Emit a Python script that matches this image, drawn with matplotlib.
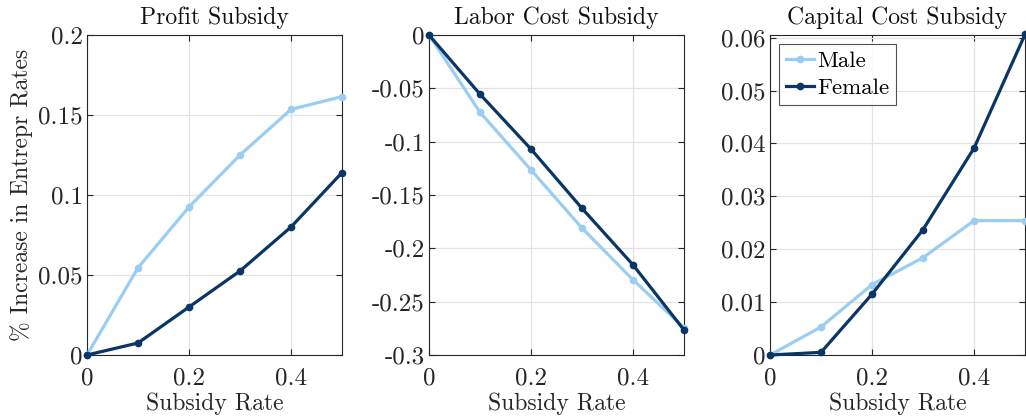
import matplotlib
matplotlib.use("Agg")
import matplotlib.pyplot as plt
from matplotlib.ticker import FuncFormatter

plt.rcParams['font.family'] = ['cmr10', 'DejaVu Serif']
plt.rcParams['axes.unicode_minus'] = False
plt.rcParams['mathtext.fontset'] = 'cm'

subsidy_rate = [0.0, 0.1, 0.2, 0.3, 0.4, 0.5]

profit_male = [0.0, 0.0545, 0.0925, 0.125, 0.1535, 0.1615]
profit_female = [0.0, 0.0075, 0.030, 0.0525, 0.080, 0.114]

labor_male = [0.0, -0.0725, -0.1265, -0.181, -0.2295, -0.2745]
labor_female = [0.0, -0.0555, -0.107, -0.1625, -0.2155, -0.2765]

capital_male = [0.0, 0.0053, 0.0133, 0.0184, 0.0254, 0.0254]
capital_female = [0.0, 0.0005, 0.0115, 0.0237, 0.0391, 0.0606]

titles = ["Profit Subsidy", "Labor Cost Subsidy", "Capital Cost Subsidy"]
series_labels = ["Male", "Female"]
xlabel = "Subsidy Rate"
ylabel = "% Increase in Entrepr Rates"

x_ticks = [0, 0.2, 0.4]
y_ticks = [
    [0, 0.05, 0.1, 0.15, 0.2],
    [-0.3, -0.25, -0.2, -0.15, -0.1, -0.05, 0],
    [0, 0.01, 0.02, 0.03, 0.04, 0.05, 0.06],
]
y_lims = [(0, 0.2), (-0.3, 0), (0, 0.0605)]

male_color = "#9BCDF2"
female_color = "#0A3567"

fig = plt.figure(figsize=(10.26, 4.17), dpi=100)
positions = [
    [87 / 1026, 62 / 417, 255 / 1026, 320 / 417],
    [429 / 1026, 62 / 417, 255 / 1026, 320 / 417],
    [770 / 1026, 62 / 417, 255 / 1026, 320 / 417],
]
data = [
    (profit_male, profit_female),
    (labor_male, labor_female),
    (capital_male, capital_female),
]


def fmt(v, pos):
    s = ("%.2f" % v).rstrip("0").rstrip(".")
    if s in ("-0", ""):
        s = "0"
    return s


for i, (pos, (m, f)) in enumerate(zip(positions, data)):
    ax = fig.add_axes(pos)
    ax.plot(subsidy_rate, m, color=male_color, lw=2.3, marker="o", ms=4.5,
            label=series_labels[0], clip_on=False, zorder=3)
    ax.plot(subsidy_rate, f, color=female_color, lw=2.3, marker="o", ms=4.5,
            label=series_labels[1], clip_on=False, zorder=4)
    ax.set_xlim(0, 0.5)
    ax.set_ylim(*y_lims[i])
    ax.set_xticks(x_ticks)
    ax.set_yticks(y_ticks[i])
    ax.xaxis.set_major_formatter(FuncFormatter(fmt))
    ax.yaxis.set_major_formatter(FuncFormatter(fmt))
    ax.grid(True, color="#E3E3E3", lw=0.9)
    ax.set_axisbelow(True)
    ax.tick_params(direction="in", top=True, right=True, length=4,
                   width=0.8, colors="#262626", labelsize=18, pad=3)
    ax.tick_params(axis="x", pad=9)
    for sp in ax.spines.values():
        sp.set_color("#262626")
        sp.set_linewidth(0.8)
    ax.set_title(titles[i], fontsize=17, color="#111111", pad=8)
    ax.set_xlabel(xlabel, fontsize=17, color="#262626", labelpad=2)
    if i == 0:
        ax.set_ylabel(ylabel, fontsize=17, color="#262626", labelpad=4)
    if i == 2:
        leg = ax.legend(loc="upper left", fontsize=16.5, frameon=True,
                        fancybox=False, edgecolor="#262626",
                        handlelength=1.2, handletextpad=0.15,
                        borderpad=0.3, labelspacing=0.3,
                        borderaxespad=0.4)
        leg.get_frame().set_linewidth(0.8)

fig.savefig("out.png", dpi=100)
